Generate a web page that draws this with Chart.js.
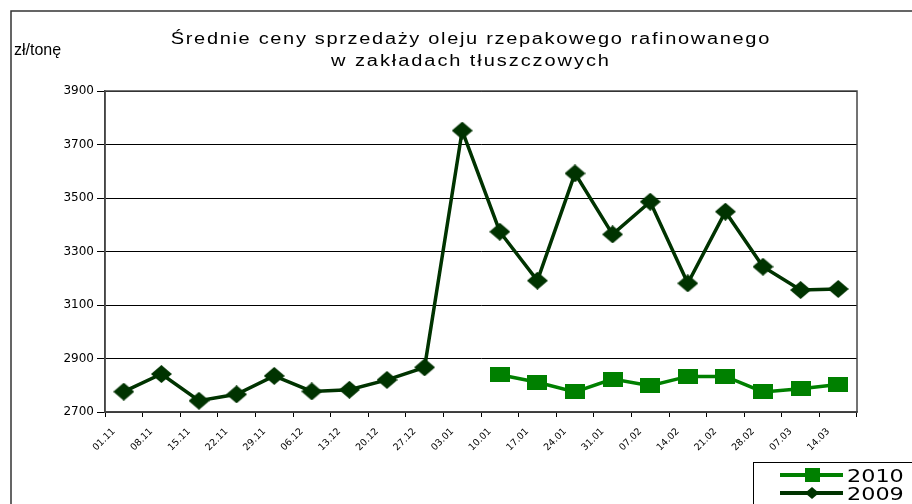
<!DOCTYPE html>
<html lang="pl">

<head>
    <meta charset="UTF-8">
    <title>Średnie ceny sprzedaży oleju rzepakowego rafinowanego</title>
    <script src="https://cdn.jsdelivr.net/npm/chart.js"></script>
    <style>
        body {
            margin: 0;
            padding: 0;
            background: #fff;
        }

        .chart-box {
            position: relative;
            width: 912px;
            height: 504px;
        }
    </style>
</head>

<body>
    <div class="chart-box">
        <canvas id="chart" width="912" height="504"></canvas>
    </div>

    <script>
        // dane
        const weeks = ['01.11', '08.11', '15.11', '22.11', '29.11', '06.12', '13.12', '20.12', '27.12', '03.01',
            '10.01', '17.01', '24.01', '31.01', '07.02', '14.02', '21.02', '28.02', '07.03', '14.03'];
        const prices2010 = [null, null, null, null, null, null, null, null, null, null,
            2839, 2811, 2775, 2823, 2798, 2833, 2833, 2775, 2787, 2803];
        const prices2009 = [2776, 2842, 2742, 2766, 2835, 2777, 2783, 2820, 2867, 3752,
            3374, 3191, 3592, 3364, 3486, 3181, 3449, 3243, 3156, 3160];
        const yTicks = [2700, 2900, 3100, 3300, 3500, 3700, 3900];
        const titleLines = ['Średnie ceny sprzedaży oleju rzepakowego rafinowanego', 'w zakładach tłuszczowych'];
        const unitLabel = 'zł/tonę';

        const COLOR_2010 = '#008000';
        const COLOR_2009 = '#003300';
        const FONT = '"Liberation Sans", Arial, sans-serif';
        const WIDE = '"DejaVu Sans", sans-serif';

        // markery jak w Excelu
        function makeSquare(color, w, h) {
            const c = document.createElement('canvas');
            c.width = w; c.height = h;
            const g = c.getContext('2d');
            g.fillStyle = color;
            g.fillRect(0, 0, w, h);
            return c;
        }

        function makeDiamond(color, w, h) {
            const c = document.createElement('canvas');
            c.width = w; c.height = h;
            const g = c.getContext('2d');
            g.fillStyle = color;
            g.beginPath();
            g.moveTo(w / 2, 0);
            g.lineTo(w, h / 2);
            g.lineTo(w / 2, h);
            g.lineTo(0, h / 2);
            g.closePath();
            g.fill();
            return c;
        }

        const squareMark = makeSquare(COLOR_2010, 20, 15);
        const diamondMark = makeDiamond(COLOR_2009, 21, 18);
        const squareSmall = makeSquare(COLOR_2010, 15, 14);
        const diamondSmall = makeDiamond(COLOR_2009, 14, 12);

        // tekst rozciągnięty w poziomie do zadanej szerokości (jak w oryginale)
        function fitText(ctx, text, cx, y, width, stretch) {
            ctx.letterSpacing = '0px';
            const w0 = ctx.measureText(text).width;
            const extra = (width / stretch - w0) / text.length;
            ctx.save();
            ctx.translate(cx, y);
            ctx.scale(stretch, 1);
            ctx.letterSpacing = extra.toFixed(2) + 'px';
            ctx.fillText(text, extra / 2, 0);
            ctx.restore();
        }

        // tytuł, jednostka, ramka, legenda
        const decorations = {
            id: 'decorations',
            afterDraw(chart) {
                const ctx = chart.ctx;
                const area = chart.chartArea;
                ctx.save();

                // ramka wykresu
                ctx.strokeStyle = '#333';
                ctx.lineWidth = 1.5;
                ctx.beginPath();
                ctx.moveTo(11, 504);
                ctx.lineTo(11, 11);
                ctx.lineTo(912, 11);
                ctx.stroke();

                // ramka obszaru kreślenia
                ctx.strokeStyle = '#444';
                ctx.lineWidth = 1.5;
                ctx.strokeRect(area.left, area.top, area.right - area.left, area.bottom - area.top);

                // tytuł
                ctx.fillStyle = '#000';
                ctx.textAlign = 'center';
                ctx.textBaseline = 'middle';
                ctx.font = '16px ' + FONT;
                fitText(ctx, titleLines[0], 470, 40, 600, 1.25);
                fitText(ctx, titleLines[1], 470, 62, 280, 1.25);

                // jednostka
                ctx.textAlign = 'left';
                ctx.font = '16px ' + FONT;
                ctx.fillText(unitLabel, 14, 51);

                // legenda
                ctx.strokeStyle = '#000';
                ctx.lineWidth = 1;
                ctx.strokeRect(753.5, 462.5, 170, 50);
                const items = [
                    { text: '2010', color: COLOR_2010, mark: squareSmall, y: 475 },
                    { text: '2009', color: COLOR_2009, mark: diamondSmall, y: 493 }
                ];
                ctx.font = '18px ' + WIDE;
                items.forEach(it => {
                    ctx.strokeStyle = it.color;
                    ctx.lineWidth = 4;
                    ctx.beginPath();
                    ctx.moveTo(780, it.y);
                    ctx.lineTo(843, it.y);
                    ctx.stroke();
                    ctx.drawImage(it.mark, 812 - it.mark.width / 2, it.y - it.mark.height / 2);
                    ctx.fillStyle = '#000';
                    ctx.save();
                    ctx.translate(847, it.y + 2);
                    ctx.scale(1.24, 1);
                    ctx.fillText(it.text, 0, 0);
                    ctx.restore();
                });

                ctx.restore();
            }
        };

        const ctx = document.getElementById('chart').getContext('2d');
        new Chart(ctx, {
            type: 'line',
            data: {
                labels: weeks,
                datasets: [{
                    label: '2010',
                    data: prices2010,
                    borderColor: COLOR_2010,
                    backgroundColor: COLOR_2010,
                    borderWidth: 3.5,
                    pointStyle: squareMark,
                    tension: 0,
                    spanGaps: false
                }, {
                    label: '2009',
                    data: prices2009,
                    borderColor: COLOR_2009,
                    backgroundColor: COLOR_2009,
                    borderWidth: 3.5,
                    pointStyle: diamondMark,
                    tension: 0
                }]
            },
            options: {
                responsive: false,
                animation: false,
                layout: {
                    padding: { top: 91, right: 55, left: 0, bottom: 0 }
                },
                plugins: {
                    legend: { display: false },
                    title: { display: false },
                    tooltip: { enabled: false }
                },
                scales: {
                    x: {
                        offset: true,
                        grid: {
                            offset: true,
                            drawOnChartArea: false,
                            color: '#000',
                            tickLength: 5
                        },
                        border: { color: '#444', width: 1.5 },
                        ticks: {
                            color: '#000',
                            font: { family: WIDE, size: 9.5 },
                            minRotation: 45,
                            maxRotation: 45,
                            autoSkip: false,
                            padding: 9,
                            labelOffset: -10
                        },
                        afterFit(scale) {
                            scale.height = 92;
                        }
                    },
                    y: {
                        min: 2700,
                        max: 3900,
                        afterBuildTicks(scale) {
                            scale.ticks = yTicks.map(v => ({ value: v }));
                        },
                        grid: {
                            color: '#000',
                            lineWidth: 1,
                            tickLength: 8
                        },
                        border: { color: '#444', width: 1.5 },
                        ticks: {
                            color: '#000',
                            font: { family: WIDE, size: 12 },
                            padding: 3,
                            callback: v => String(v)
                        },
                        afterFit(scale) {
                            scale.width = 105;
                        }
                    }
                }
            },
            plugins: [decorations]
        });
    </script>
</body>

</html>
